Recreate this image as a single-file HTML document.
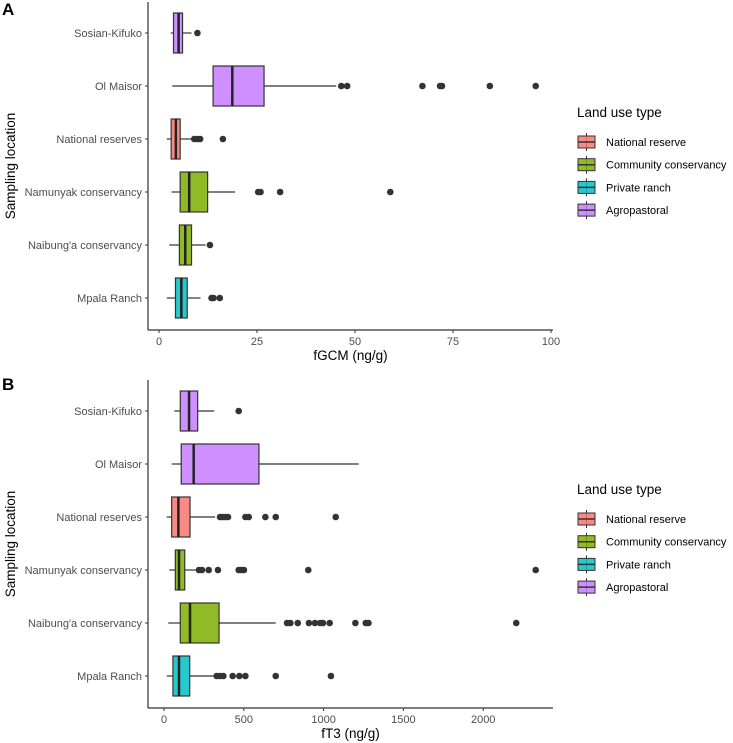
<!DOCTYPE html>
<html><head><meta charset="utf-8"><style>
body{margin:0;background:#fff}
svg{display:block;font-family:"Liberation Sans",Arial,sans-serif}
</style></head><body>
<svg id="chart" width="733" height="743" viewBox="0 0 733 743"></svg>
<script>
const categories=["Sosian-Kifuko","Ol Maisor","National reserves","Namunyak conservancy","Naibung'a conservancy","Mpala Ranch"];
const landUse=["Agropastoral","Agropastoral","National reserve","Community conservancy","Community conservancy","Private ranch"];
const legendLabels=["National reserve","Community conservancy","Private ranch","Agropastoral"];
const legendColors=["#F8766D","#7CAE00","#00BFC4","#C77CFF"];
// Panel A: fGCM  [whiskerLow, q1, median, q3, whiskerHigh]
const statsA=[[3.0,3.7,5.0,6.0,8.3],[3.4,13.8,18.7,26.8,45.2],[2.0,3.1,4.3,5.4,8.3],[3.2,5.4,7.7,12.4,19.4],[2.6,5.2,6.7,8.3,11.9],[2.0,4.2,5.7,7.2,10.6]];
const outliersA=[[9.8],[46.5,48.0,67.2,71.7,72.2,84.4,96.1],[9.0,9.8,10.5,16.3],[25.3,25.9,30.9,59.0],[13.0],[13.4,13.9,15.5]];
const ticksA=[0,25,50,75,100];
// Panel B: fT3
const statsB=[[65,102,157,211,315],[48,108,186,595,1220],[17,48,90,163,320],[33,71,94,130,205],[27,102,163,345,700],[17,56,94,161,320]];
const outliersB=[[468],[],[351,368,384,401,510,531,635,700,1076],[219,238,280,338,468,484,501,904,2329],[771,792,838,908,946,979,996,1038,1199,1264,1281,2207],[330,350,372,430,472,510,700,1046]];
const ticksB=[0,500,1000,1500,2000];

const NS="http://www.w3.org/2000/svg";
const svg=document.getElementById('chart');
function mk(tag,attrs,parent){const e=document.createElementNS(NS,tag);for(const k in attrs)e.setAttribute(k,attrs[k]);(parent||svg).appendChild(e);return e;}
function colorFor(i){return legendColors[legendLabels.indexOf(landUse[i])];}

function panel(cfg){
  const g=mk('g',{});
  
  
  const x=v=>cfg.x0+v*cfg.sx;
  const y=i=>cfg.row0+i*cfg.rowStep;
  // panel letter
  const t=mk('text',{x:2,y:cfg.letterY,'font-size':17,'font-weight':'bold',fill:'#000'},g);
  t.textContent=cfg.letter;
  
  
  // boxes
  cfg.stats.forEach((s,i)=>{
    const bg=mk('g',{},g);
    
    
    const cy=y(i),h=20;
    mk('line',{x1:x(s[0]),x2:x(s[1]),y1:cy,y2:cy,stroke:'#333','stroke-width':1.2},bg);
    mk('line',{x1:x(s[3]),x2:x(s[4]),y1:cy,y2:cy,stroke:'#333','stroke-width':1.2},bg);
    mk('rect',{x:x(s[1]),y:cy-h,width:x(s[3])-x(s[1]),height:2*h,fill:colorFor(i),'fill-opacity':0.85,stroke:'#333','stroke-width':1.2},bg);
    mk('line',{x1:x(s[2]),x2:x(s[2]),y1:cy-h,y2:cy+h,stroke:'#222','stroke-width':2.5},bg);
    cfg.outliers[i].forEach(o=>{
      const c=mk('circle',{cx:x(o),cy:cy,r:3.3,fill:'#333'},bg);
      
      
    });
  });
  // axes
  const ax=mk('line',{x1:cfg.axX,x2:cfg.axX,y1:cfg.top,y2:cfg.bottom,stroke:'#333','stroke-width':1.2},g);
  
  
  const bx=mk('line',{x1:cfg.axX,x2:cfg.right,y1:cfg.bottom,y2:cfg.bottom,stroke:'#333','stroke-width':1.2},g);
  
  
  categories.forEach((c,i)=>{
    mk('line',{x1:cfg.axX-3,x2:cfg.axX,y1:y(i),y2:y(i),stroke:'#333'},g);
    const tt=mk('text',{x:cfg.axX-6,y:y(i)+4,'font-size':11,fill:'#4d4d4d','text-anchor':'end'},g);
    tt.textContent=c;
    
    
  });
  cfg.ticks.forEach(v=>{
    mk('line',{x1:x(v),x2:x(v),y1:cfg.bottom,y2:cfg.bottom+3,stroke:'#333'},g);
    const tt=mk('text',{x:x(v),y:cfg.bottom+15,'font-size':11,fill:'#4d4d4d','text-anchor':'middle'},g);
    tt.textContent=v;
    
    
  });
  const xt=mk('text',{x:(cfg.axX+cfg.right)/2,y:cfg.bottom+30,'font-size':13.5,fill:'#000','text-anchor':'middle'},g);
  xt.textContent=cfg.xTitle;
  
  
  const cyT=(cfg.top+cfg.bottom)/2;
  const yt=mk('text',{x:15,y:cyT,'font-size':13.5,fill:'#000','text-anchor':'middle',transform:`rotate(-90 15 ${cyT})`},g);
  yt.textContent='Sampling location';
  
  
  // legend
  const lg=mk('g',{},g);
  
  
  const lt=mk('text',{x:577,y:cfg.legY,'font-size':13.5,fill:'#000'},lg);
  lt.textContent='Land use type';
  legendLabels.forEach((l,k)=>{
    const ey=cfg.legY+25+k*22.7;
    const e=mk('g',{},lg);
    
    
    mk('line',{x1:586.5,x2:586.5,y1:ey-9,y2:ey+9,stroke:'#333'},e);
    mk('rect',{x:578,y:ey-6,width:17,height:12,fill:legendColors[k],'fill-opacity':0.85,stroke:'#333'},e);
    mk('line',{x1:578,x2:595,y1:ey,y2:ey,stroke:'#333','stroke-width':1.5},e);
    const et=mk('text',{x:606,y:ey+4,'font-size':11,fill:'#000'},e);
    et.textContent=l;
  });
}
panel({id:'panel-a',letter:'A',letterY:15,x0:159,sx:3.92,row0:33,rowStep:53,axX:148,top:2,bottom:330,right:553,stats:statsA,outliers:outliersA,ticks:ticksA,xTitle:'fGCM (ng/g)',legY:117});
panel({id:'panel-b',letter:'B',letterY:390,x0:164,sx:0.1596,row0:411,rowStep:53,axX:148,top:380,bottom:708,right:553,stats:statsB,outliers:outliersB,ticks:ticksB,xTitle:'fT3 (ng/g)',legY:494});
</script>
</body></html>
